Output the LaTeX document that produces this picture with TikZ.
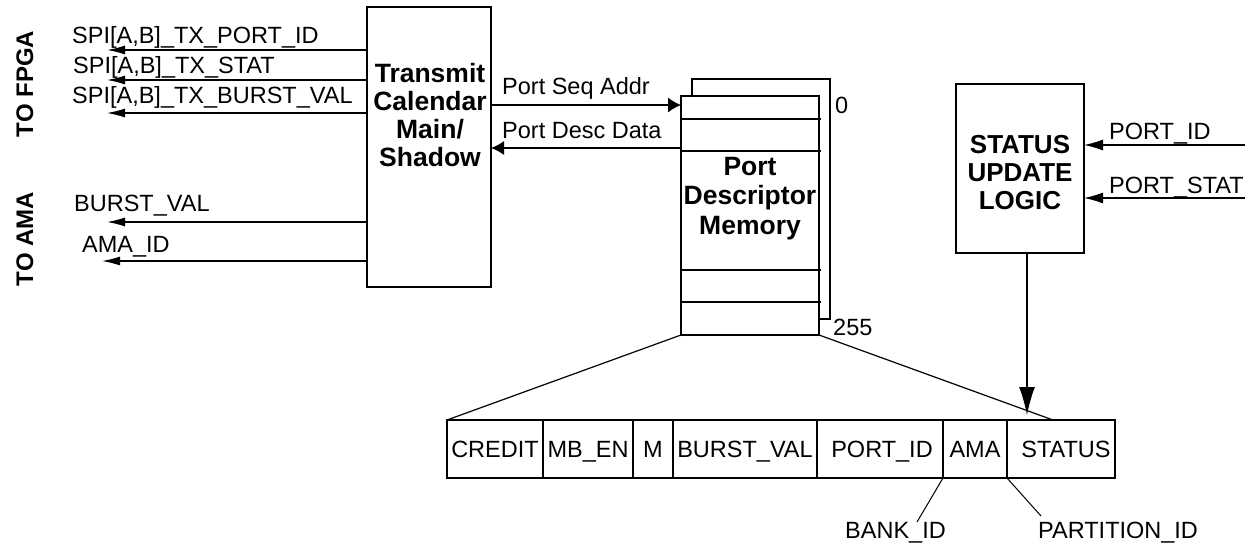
\documentclass[tikz,border=0pt]{standalone}
\usepackage{fontspec}
\setmainfont{Liberation Sans}
\usetikzlibrary{arrows.meta}
\begin{document}
\begin{tikzpicture}[x=1pt,y=-1pt,
  box/.style={draw, line width=1.2pt, inner sep=0pt, outer sep=0pt},
  lbl/.style={font=\fontsize{23.5}{27}\selectfont, inner sep=0pt, anchor=base west},
  clbl/.style={font=\fontsize{23.5}{27}\selectfont, inner sep=0pt, anchor=base},
  blbl/.style={font=\fontsize{26.5}{27.7}\selectfont\bfseries, inner sep=0pt, align=center, anchor=base},
  side/.style={font=\fontsize{24}{28}\selectfont\bfseries, inner sep=0pt, anchor=base, rotate=90},
  ln/.style={line width=1.2pt},
  thin/.style={line width=1pt},
  arr/.style={line width=1.2pt, -{Latex[length=18pt,width=9pt]}},
]
\useasboundingbox (0,0) rectangle (1245,546);

% blocks
\node[box, minimum width=124pt, minimum height=280pt] (tc) at (429,147) {};
\node[box, minimum width=138pt, minimum height=240pt] (memb) at (761,199) {};
\node[box, fill=white, minimum width=138pt, minimum height=239pt] (mem) at (750,215.5) {};
\node[box, minimum width=128pt, minimum height=169pt] (st) at (1020,168.5) {};
\node[box, minimum width=668pt, minimum height=58pt] (tab) at (781,449) {};

% block texts (anchor = baseline of the last line)
\node[blbl] (tctext) at (430,166) {Transmit\\Calendar\\Main/\\Shadow};
\node[blbl, font=\fontsize{26.5}{29.5}\selectfont\bfseries] (memtext) at (750,234) {Port\\Descriptor\\Memory};
\node[blbl, font=\fontsize{26}{28}\selectfont\bfseries] (sttext) at (1020,209) {STATUS\\UPDATE\\LOGIC};

% memory rows
\foreach \yy in {119,151,270,302} \draw[ln] (mem.west |- 0,\yy) -- (821,\yy);
\node[lbl] (m0) at (835,113) {0};
\node[lbl] (m255) at (833,335) {255};

% side titles
\node[side] (tofpga) at (33,84) {TO FPGA};
\node[side] (toama) at (33,239) {TO AMA};

% left outputs
\coordinate (o1) at (107,50);
\coordinate (o2) at (107,80);
\coordinate (o3) at (107,113);
\coordinate (o4) at (107,222);
\coordinate (o5) at (102,261);
\draw[arr] (tc.west |- o1) -- (o1);
\draw[arr] (tc.west |- o2) -- (o2);
\draw[arr] (tc.west |- o3) -- (o3);
\draw[arr] (tc.west |- o4) -- (o4);
\draw[arr] (tc.west |- o5) -- (o5);
\node[lbl] (t1) at (72,43) {SPI[A,B]\_TX\_PORT\_ID};
\node[lbl] (t2) at (73,73) {SPI[A,B]\_TX\_STAT};
\node[lbl] (t3) at (72,103) {SPI[A,B]\_TX\_BURST\_VAL};
\node[lbl] (t4) at (74,211) {BURST\_VAL};
\node[lbl] (t5) at (82,252) {AMA\_ID};

% calendar <-> memory
\coordinate (psa) at (0,105);
\coordinate (pdd) at (0,148);
\draw[line width=1.2pt, -{Latex[length=13pt,width=15pt]}] (tc.east |- psa) -- (mem.west |- psa);
\draw[line width=1.2pt, -{Latex[length=13pt,width=14pt]}] (mem.west |- pdd) -- (tc.east |- pdd);
\node[lbl] (psat) at (502,94) {Port Seq Addr};
\node[lbl] (pddt) at (502,138) {Port Desc Data};

% status inputs
\coordinate (i1) at (1245,145);
\coordinate (i2) at (1245,198);
\draw[line width=1.2pt, -{Latex[length=19pt,width=11pt]}] (i1) -- (st.east |- i1);
\draw[line width=1.2pt, -{Latex[length=19pt,width=11pt]}] (i2) -- (st.east |- i2);
\node[lbl] (pid) at (1109,139) {PORT\_ID};
\node[lbl] (pst) at (1109,193) {PORT\_STAT};

% status down
\coordinate (sttip) at (1027,415);
\draw[line width=1.2pt, -{Latex[length=28pt,width=16pt]}] (st.south -| sttip) -- (sttip);

% fan lines
\coordinate (fanR) at (1053,420);
\draw[ln] (mem.south west) -- (tab.north west);
\draw[ln] (mem.south east) -- (fanR);

% table fields
\foreach \xx in {543,633,673,817,943,1007} \draw[ln] (\xx,420) -- (\xx,478);
\node[clbl] (f1) at (495,457) {CREDIT};
\node[clbl] (f2) at (588,457) {MB\_EN};
\node[clbl] (f3) at (653,457) {M};
\node[clbl] (f4) at (745,457) {BURST\_VAL};
\node[clbl] (f5) at (882,457) {PORT\_ID};
\node[clbl] (f6) at (975,457) {AMA};
\node[clbl] (f7) at (1066,457) {STATUS};

% sub-field callouts
\coordinate (bk) at (917,522);
\coordinate (pt) at (1041,516);
\draw[thin] (943,478) -- (bk);
\draw[thin] (1007,478) -- (pt);
\node[lbl] (bkt) at (845,538) {BANK\_ID};
\node[lbl] (ptt) at (1038,538) {PARTITION\_ID};
\end{tikzpicture}
\end{document}
